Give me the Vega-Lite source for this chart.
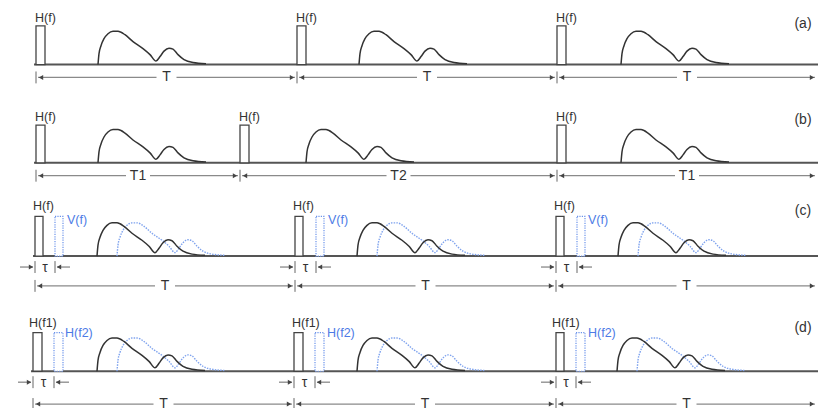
{
  "$schema": "https://vega.github.io/schema/vega-lite/v6.json",
  "width": 821,
  "height": 411,
  "autosize": {"type": "fit", "contains": "padding"},
  "padding": 0,
  "background": "white",
  "config": {"view": {"stroke": null}, "font": "Liberation Sans"},
  "datasets": {
    "base": [
      {"x": 34, "x2": 818, "y": 65},
      {"x": 34, "x2": 818, "y": 164},
      {"x": 33, "x2": 818, "y": 258},
      {"x": 31, "x2": 818, "y": 374}
    ],
    "boxes": [
      {"c": "k", "x": 36, "x2": 45, "y": 26, "y2": 65},
      {"c": "k", "x": 297, "x2": 306, "y": 26, "y2": 65},
      {"c": "k", "x": 557, "x2": 566, "y": 26, "y2": 65},
      {"c": "k", "x": 36, "x2": 45, "y": 126, "y2": 164},
      {"c": "k", "x": 240, "x2": 249, "y": 126, "y2": 164},
      {"c": "k", "x": 557, "x2": 566, "y": 126, "y2": 164},
      {"c": "k", "x": 35, "x2": 43, "y": 218, "y2": 258},
      {"c": "k", "x": 295, "x2": 303, "y": 218, "y2": 258},
      {"c": "k", "x": 556, "x2": 564, "y": 218, "y2": 258},
      {"c": "b", "x": 55, "x2": 63, "y": 218, "y2": 258},
      {"c": "b", "x": 316, "x2": 324, "y": 218, "y2": 258},
      {"c": "b", "x": 577, "x2": 585, "y": 218, "y2": 258},
      {"c": "k", "x": 33, "x2": 42, "y": 335, "y2": 374},
      {"c": "k", "x": 294, "x2": 303, "y": 335, "y2": 374},
      {"c": "k", "x": 556, "x2": 564, "y": 335, "y2": 374},
      {"c": "b", "x": 54, "x2": 63, "y": 335, "y2": 374},
      {"c": "b", "x": 315, "x2": 324, "y": 335, "y2": 374},
      {"c": "b", "x": 576, "x2": 585, "y": 335, "y2": 374}
    ],
    "curves": [
      {"g": "a1", "c": "k", "x": [98,99,101,104,108,113,118,125,133,143,150,156,160,164,169,173,178,184,193,206], "y": [65,54,46,39,34,31.5,31.5,35,42,49,55,61.5,57,51.5,48.5,49.5,55,60,63,64.2]},
      {"g": "a2", "c": "k", "x": [359,360,362,365,369,374,379,386,394,404,411,417,421,425,430,434,439,445,454,467], "y": [65,54,46,39,34,31.5,31.5,35,42,49,55,61.5,57,51.5,48.5,49.5,55,60,63,64.2]},
      {"g": "a3", "c": "k", "x": [621,622,624,627,631,636,641,648,656,666,673,679,683,687,692,696,701,707,716,729], "y": [65,54,46,39,34,31.5,31.5,35,42,49,55,61.5,57,51.5,48.5,49.5,55,60,63,64.2]},
      {"g": "b1", "c": "k", "x": [98,99,101,104,108,113,118,125,133,143,150,156,160,164,169,173,178,184,193,206], "y": [164,153,145,138,133,130.5,130.5,134,141,148,154,160.5,156,150.5,147.5,148.5,154,159,162,163.2]},
      {"g": "b2", "c": "k", "x": [306,307,309,312,316,321,326,333,341,351,358,364,368,372,377,381,386,392,401,414], "y": [164,153,145,138,133,130.5,130.5,134,141,148,154,160.5,156,150.5,147.5,148.5,154,159,162,163.2]},
      {"g": "b3", "c": "k", "x": [621,622,624,627,631,636,641,648,656,666,673,679,683,687,692,696,701,707,716,729], "y": [164,153,145,138,133,130.5,130.5,134,141,148,154,160.5,156,150.5,147.5,148.5,154,159,162,163.2]},
      {"g": "c1", "c": "k", "x": [97,98,100,103,107,112,117,124,132,142,149,155,159,163,168,172,177,183,192,205], "y": [258,247,239,232,227,224.5,224.5,228,235,242,248,254.5,250,244.5,241.5,242.5,248,253,256,257.2]},
      {"g": "c2", "c": "k", "x": [357,358,360,363,367,372,377,384,392,402,409,415,419,423,428,432,437,443,452,465], "y": [258,247,239,232,227,224.5,224.5,228,235,242,248,254.5,250,244.5,241.5,242.5,248,253,256,257.2]},
      {"g": "c3", "c": "k", "x": [618,619,621,624,628,633,638,645,653,663,670,676,680,684,689,693,698,704,713,726], "y": [258,247,239,232,227,224.5,224.5,228,235,242,248,254.5,250,244.5,241.5,242.5,248,253,256,257.2]},
      {"g": "c1v", "c": "b", "x": [117,118,120,123,127,132,137,144,152,162,169,175,179,183,188,192,197,203,212,225], "y": [258,247,239,232,227,224.5,224.5,228,235,242,248,254.5,250,244.5,241.5,242.5,248,253,256,257.2]},
      {"g": "c2v", "c": "b", "x": [377,378,380,383,387,392,397,404,412,422,429,435,439,443,448,452,457,463,472,485], "y": [258,247,239,232,227,224.5,224.5,228,235,242,248,254.5,250,244.5,241.5,242.5,248,253,256,257.2]},
      {"g": "c3v", "c": "b", "x": [638,639,641,644,648,653,658,665,673,683,690,696,700,704,709,713,718,724,733,746], "y": [258,247,239,232,227,224.5,224.5,228,235,242,248,254.5,250,244.5,241.5,242.5,248,253,256,257.2]},
      {"g": "d1", "c": "k", "x": [97,98,100,103,107,112,117,124,132,142,149,155,159,163,168,172,177,183,192,205], "y": [374,363,355,348,343,340.5,340.5,344,351,358,364,370.5,366,360.5,357.5,358.5,364,369,372,373.2]},
      {"g": "d2", "c": "k", "x": [357,358,360,363,367,372,377,384,392,402,409,415,419,423,428,432,437,443,452,465], "y": [374,363,355,348,343,340.5,340.5,344,351,358,364,370.5,366,360.5,357.5,358.5,364,369,372,373.2]},
      {"g": "d3", "c": "k", "x": [617,618,620,623,627,632,637,644,652,662,669,675,679,683,688,692,697,703,712,725], "y": [374,363,355,348,343,340.5,340.5,344,351,358,364,370.5,366,360.5,357.5,358.5,364,369,372,373.2]},
      {"g": "d1v", "c": "b", "x": [117,118,120,123,127,132,137,144,152,162,169,175,179,183,188,192,197,203,212,225], "y": [374,363,355,348,343,340.5,340.5,344,351,358,364,370.5,366,360.5,357.5,358.5,364,369,372,373.2]},
      {"g": "d2v", "c": "b", "x": [377,378,380,383,387,392,397,404,412,422,429,435,439,443,448,452,457,463,472,485], "y": [374,363,355,348,343,340.5,340.5,344,351,358,364,370.5,366,360.5,357.5,358.5,364,369,372,373.2]},
      {"g": "d3v", "c": "b", "x": [637,638,640,643,647,652,657,664,672,682,689,695,699,703,708,712,717,723,732,745], "y": [374,363,355,348,343,340.5,340.5,344,351,358,364,370.5,366,360.5,357.5,358.5,364,369,372,373.2]}
    ],
    "segs": [
      {"x": 38, "x2": 156.5, "y": 78}, {"x": 176.5, "x2": 295, "y": 78},
      {"x": 299, "x2": 417, "y": 78}, {"x": 437, "x2": 555, "y": 78},
      {"x": 559, "x2": 677, "y": 78}, {"x": 697, "x2": 815, "y": 78},
      {"x": 38, "x2": 126, "y": 177}, {"x": 150, "x2": 238, "y": 177},
      {"x": 242, "x2": 386.5, "y": 177}, {"x": 410.5, "x2": 555, "y": 177},
      {"x": 559, "x2": 675, "y": 177}, {"x": 699, "x2": 815, "y": 177},
      {"x": 37, "x2": 155, "y": 288}, {"x": 175, "x2": 293, "y": 288},
      {"x": 297, "x2": 415.5, "y": 288}, {"x": 435.5, "x2": 554, "y": 288},
      {"x": 558, "x2": 676.5, "y": 288}, {"x": 696.5, "x2": 815, "y": 288},
      {"x": 35, "x2": 153.5, "y": 407}, {"x": 173.5, "x2": 292, "y": 407},
      {"x": 296, "x2": 415, "y": 407}, {"x": 435, "x2": 554, "y": 407},
      {"x": 558, "x2": 676.5, "y": 407}, {"x": 696.5, "x2": 815, "y": 407},
      {"x": 20, "x2": 33, "y": 269}, {"x": 57, "x2": 70, "y": 269},
      {"x": 280, "x2": 293, "y": 269}, {"x": 318, "x2": 331, "y": 269},
      {"x": 541, "x2": 554, "y": 269}, {"x": 579, "x2": 592, "y": 269},
      {"x": 18, "x2": 31, "y": 385}, {"x": 56, "x2": 69, "y": 385},
      {"x": 279, "x2": 292, "y": 385}, {"x": 317, "x2": 330, "y": 385},
      {"x": 541, "x2": 554, "y": 385}, {"x": 578, "x2": 591, "y": 385}
    ],
    "ticks": [
      {"x": 36, "y": 72, "y2": 84}, {"x": 297, "y": 72, "y2": 84}, {"x": 557, "y": 72, "y2": 84},
      {"x": 36, "y": 171, "y2": 183}, {"x": 240, "y": 171, "y2": 183}, {"x": 557, "y": 171, "y2": 183},
      {"x": 35, "y": 282, "y2": 294}, {"x": 295, "y": 282, "y2": 294}, {"x": 556, "y": 282, "y2": 294},
      {"x": 33, "y": 401, "y2": 411}, {"x": 294, "y": 401, "y2": 411}, {"x": 556, "y": 401, "y2": 411},
      {"x": 35, "y": 263, "y2": 275}, {"x": 55, "y": 263, "y2": 275},
      {"x": 295, "y": 263, "y2": 275}, {"x": 316, "y": 263, "y2": 275},
      {"x": 556, "y": 263, "y2": 275}, {"x": 577, "y": 263, "y2": 275},
      {"x": 33, "y": 379, "y2": 391}, {"x": 54, "y": 379, "y2": 391},
      {"x": 294, "y": 379, "y2": 391}, {"x": 315, "y": 379, "y2": 391},
      {"x": 556, "y": 379, "y2": 391}, {"x": 576, "y": 379, "y2": 391}
    ],
    "heads": [
      {"x": 41, "y": 78, "d": "L"}, {"x": 292, "y": 78, "d": "R"},
      {"x": 302, "y": 78, "d": "L"}, {"x": 552, "y": 78, "d": "R"},
      {"x": 562, "y": 78, "d": "L"}, {"x": 812, "y": 78, "d": "R"},
      {"x": 41, "y": 177, "d": "L"}, {"x": 235, "y": 177, "d": "R"},
      {"x": 245, "y": 177, "d": "L"}, {"x": 552, "y": 177, "d": "R"},
      {"x": 562, "y": 177, "d": "L"}, {"x": 812, "y": 177, "d": "R"},
      {"x": 40, "y": 288, "d": "L"}, {"x": 290, "y": 288, "d": "R"},
      {"x": 300, "y": 288, "d": "L"}, {"x": 551, "y": 288, "d": "R"},
      {"x": 561, "y": 288, "d": "L"}, {"x": 812, "y": 288, "d": "R"},
      {"x": 38, "y": 407, "d": "L"}, {"x": 289, "y": 407, "d": "R"},
      {"x": 299, "y": 407, "d": "L"}, {"x": 551, "y": 407, "d": "R"},
      {"x": 561, "y": 407, "d": "L"}, {"x": 812, "y": 407, "d": "R"},
      {"x": 31, "y": 269, "d": "R"}, {"x": 59, "y": 269, "d": "L"},
      {"x": 291, "y": 269, "d": "R"}, {"x": 320, "y": 269, "d": "L"},
      {"x": 552, "y": 269, "d": "R"}, {"x": 581, "y": 269, "d": "L"},
      {"x": 29, "y": 385, "d": "R"}, {"x": 58, "y": 385, "d": "L"},
      {"x": 290, "y": 385, "d": "R"}, {"x": 319, "y": 385, "d": "L"},
      {"x": 552, "y": 385, "d": "R"}, {"x": 580, "y": 385, "d": "L"}
    ],
    "ltext": [
      {"x": 35, "y": 18, "t": "H(f)", "c": "k"},
      {"x": 296, "y": 18, "t": "H(f)", "c": "k"},
      {"x": 556, "y": 18, "t": "H(f)", "c": "k"},
      {"x": 35, "y": 118, "t": "H(f)", "c": "k"},
      {"x": 239, "y": 118, "t": "H(f)", "c": "k"},
      {"x": 556, "y": 118, "t": "H(f)", "c": "k"},
      {"x": 33, "y": 208, "t": "H(f)", "c": "k"},
      {"x": 293, "y": 208, "t": "H(f)", "c": "k"},
      {"x": 554, "y": 208, "t": "H(f)", "c": "k"},
      {"x": 67, "y": 222, "t": "V(f)", "c": "b"},
      {"x": 328, "y": 222, "t": "V(f)", "c": "b"},
      {"x": 588, "y": 222, "t": "V(f)", "c": "b"},
      {"x": 29, "y": 325, "t": "H(f1)", "c": "k"},
      {"x": 292, "y": 325, "t": "H(f1)", "c": "k"},
      {"x": 552, "y": 325, "t": "H(f1)", "c": "k"},
      {"x": 65, "y": 335, "t": "H(f2)", "c": "b"},
      {"x": 327, "y": 335, "t": "H(f2)", "c": "b"},
      {"x": 588, "y": 335, "t": "H(f2)", "c": "b"}
    ],
    "ctext": [
      {"x": 803, "y": 24, "t": "(a)", "c": "k"},
      {"x": 803, "y": 121, "t": "(b)", "c": "k"},
      {"x": 803, "y": 213, "t": "(c)", "c": "k"},
      {"x": 803, "y": 330, "t": "(d)", "c": "k"},
      {"x": 166.5, "y": 78, "t": "T", "c": "k"},
      {"x": 427, "y": 78, "t": "T", "c": "k"},
      {"x": 687, "y": 78, "t": "T", "c": "k"},
      {"x": 138, "y": 177, "t": "T1", "c": "k"},
      {"x": 398.5, "y": 177, "t": "T2", "c": "k"},
      {"x": 687, "y": 177, "t": "T1", "c": "k"},
      {"x": 165, "y": 288, "t": "T", "c": "k"},
      {"x": 425.5, "y": 288, "t": "T", "c": "k"},
      {"x": 686.5, "y": 288, "t": "T", "c": "k"},
      {"x": 163.5, "y": 407, "t": "T", "c": "k"},
      {"x": 425, "y": 407, "t": "T", "c": "k"},
      {"x": 686.5, "y": 407, "t": "T", "c": "k"},
      {"x": 45, "y": 270, "t": "τ", "c": "k"},
      {"x": 305.5, "y": 270, "t": "τ", "c": "k"},
      {"x": 566.5, "y": 270, "t": "τ", "c": "k"},
      {"x": 43.5, "y": 386, "t": "τ", "c": "k"},
      {"x": 304.5, "y": 386, "t": "τ", "c": "k"},
      {"x": 566, "y": 386, "t": "τ", "c": "k"}
    ]
  },
  "layer": [
    {
      "data": {"name": "base"},
      "mark": {"type": "rule", "color": "#555555", "strokeWidth": 2},
      "encoding": {
        "x": {"field": "x", "type": "quantitative", "scale": {"domain": [0, 821], "nice": false, "zero": false}, "axis": null},
        "x2": {"field": "x2"},
        "y": {"field": "y", "type": "quantitative", "scale": {"domain": [0, 411], "nice": false, "zero": false, "reverse": true}, "axis": null}
      }
    },
    {
      "data": {"name": "boxes"},
      "transform": [{"filter": "datum.c === 'k'"}],
      "mark": {"type": "rect", "fill": "#ffffff", "stroke": "#444444", "strokeWidth": 1.3},
      "encoding": {
        "x": {"field": "x", "type": "quantitative"},
        "x2": {"field": "x2"},
        "y": {"field": "y", "type": "quantitative"},
        "y2": {"field": "y2"}
      }
    },
    {
      "data": {"name": "boxes"},
      "transform": [{"filter": "datum.c === 'b'"}],
      "mark": {"type": "rect", "fill": "#ffffff", "stroke": "#6a92ea", "strokeWidth": 1.2, "strokeDash": [1.2, 1.2]},
      "encoding": {
        "x": {"field": "x", "type": "quantitative"},
        "x2": {"field": "x2"},
        "y": {"field": "y", "type": "quantitative"},
        "y2": {"field": "y2"}
      }
    },
    {
      "data": {"name": "curves"},
      "transform": [{"filter": "datum.c === 'b'"}, {"flatten": ["x", "y"]}],
      "mark": {"type": "line", "interpolate": "monotone", "stroke": "#7fa3ee", "strokeWidth": 1.4, "strokeDash": [1.5, 1.2]},
      "encoding": {
        "x": {"field": "x", "type": "quantitative"},
        "y": {"field": "y", "type": "quantitative"},
        "detail": {"field": "g"}
      }
    },
    {
      "data": {"name": "curves"},
      "transform": [{"filter": "datum.c === 'k'"}, {"flatten": ["x", "y"]}],
      "mark": {"type": "line", "interpolate": "monotone", "stroke": "#333333", "strokeWidth": 1.5},
      "encoding": {
        "x": {"field": "x", "type": "quantitative"},
        "y": {"field": "y", "type": "quantitative"},
        "detail": {"field": "g"}
      }
    },
    {
      "data": {"name": "segs"},
      "mark": {"type": "rule", "color": "#8a8a8a", "strokeWidth": 1.3},
      "encoding": {
        "x": {"field": "x", "type": "quantitative"},
        "x2": {"field": "x2"},
        "y": {"field": "y", "type": "quantitative"}
      }
    },
    {
      "data": {"name": "ticks"},
      "mark": {"type": "rule", "color": "#666666", "strokeWidth": 1},
      "encoding": {
        "x": {"field": "x", "type": "quantitative"},
        "y": {"field": "y", "type": "quantitative"},
        "y2": {"field": "y2"}
      }
    },
    {
      "data": {"name": "heads"},
      "mark": {"type": "point", "filled": true, "size": 26, "color": "#444444", "opacity": 1},
      "encoding": {
        "x": {"field": "x", "type": "quantitative"},
        "y": {"field": "y", "type": "quantitative"},
        "shape": {"field": "d", "type": "nominal", "scale": {"domain": ["L", "R"], "range": ["triangle-left", "triangle-right"]}, "legend": null}
      }
    },
    {
      "data": {"name": "ltext"},
      "mark": {"type": "text", "align": "left", "baseline": "middle", "fontSize": 12.5},
      "encoding": {
        "x": {"field": "x", "type": "quantitative"},
        "y": {"field": "y", "type": "quantitative"},
        "text": {"field": "t"},
        "color": {"field": "c", "type": "nominal", "scale": {"domain": ["k", "b"], "range": ["#333333", "#4d7be6"]}, "legend": null}
      }
    },
    {
      "data": {"name": "ctext"},
      "mark": {"type": "text", "align": "center", "baseline": "middle", "fontSize": 14, "fontWeight": 500},
      "encoding": {
        "x": {"field": "x", "type": "quantitative"},
        "y": {"field": "y", "type": "quantitative"},
        "text": {"field": "t"},
        "color": {"field": "c", "type": "nominal", "legend": null}
      }
    }
  ]
}
